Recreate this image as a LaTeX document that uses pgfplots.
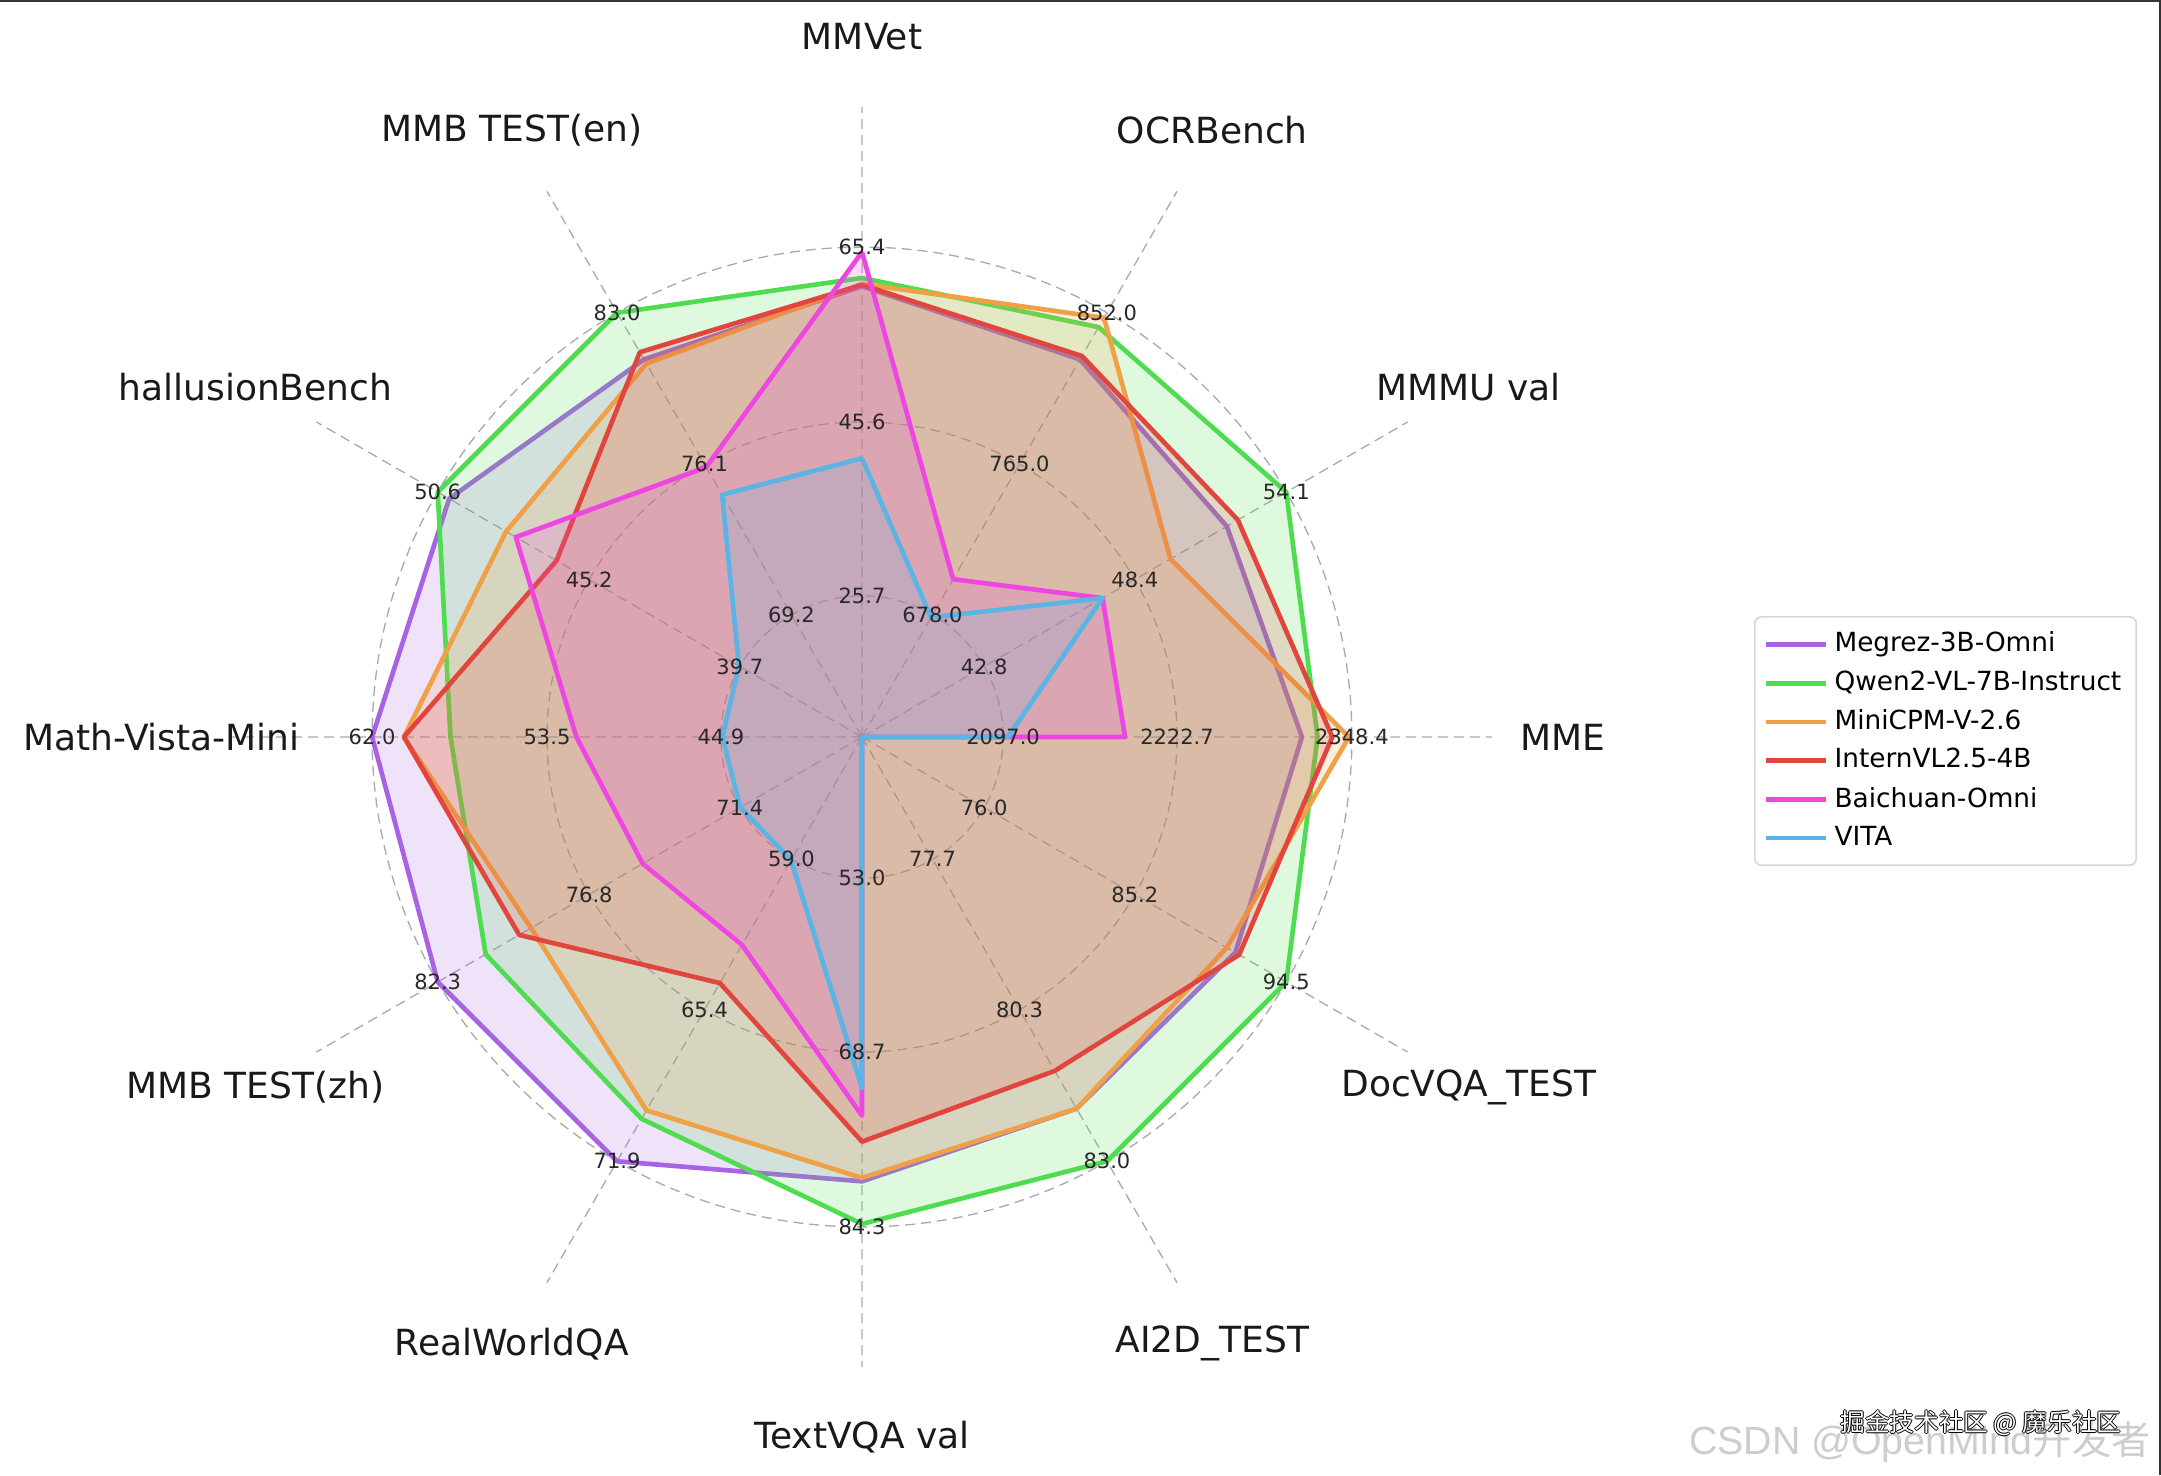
\documentclass[border=0pt]{standalone}
\usepackage{pgfplots}
\pgfplotsset{compat=1.18}
\usepgfplotslibrary{polar}
\usepackage{fontspec}
\setmainfont{DejaVu Sans}
\newfontfamily\cjk{Noto Sans CJK SC}
\newfontfamily\arialf{Liberation Sans}
\definecolor{cPurple}{RGB}{168,98,228}
\definecolor{cGreen}{RGB}{80,220,80}
\definecolor{cOrange}{RGB}{240,160,70}
\definecolor{cRed}{RGB}{225,70,62}
\definecolor{cMagenta}{RGB}{238,70,225}
\definecolor{cBlue}{RGB}{90,180,228}
\definecolor{gridgray}{RGB}{170,170,170}
\definecolor{ticktext}{RGB}{40,40,40}
\newcommand\tl{\fontsize{6.3}{7}\selectfont}
\newcommand\cl{\fontsize{10.8}{12}\selectfont}
\begin{document}
\begin{tikzpicture}
\path[use as bounding box] (0,0) rectangle (648.3pt,442.5pt);
\begin{polaraxis}[
  scale only axis, width=378pt, height=378pt,
  at={(258.6pt,221.4pt)}, anchor=center,
  ymin=0, ymax=1.286,
  xtick={0,30,...,330}, ytick={0.288,0.643,1},
  xticklabels={}, yticklabels={},
  major tick length=0pt,
  grid=major,
  major grid style={draw=gridgray, dash pattern=on 3pt off 1.8pt, line width=0.4pt},
  axis line style={draw=none},
  clip=false,
  legend cell align=left,
  legend style={at={(1.208,0.596)}, anchor=north west, draw={rgb,255:red,215;green,215;blue,215}, line width=0.5pt, fill=white, rounded corners=2pt, font=\fontsize{7.9}{9.5}\selectfont, row sep=0.2pt, inner sep=2.5pt},
  legend image code/.code={\draw[#1,fill=none,line width=1.4pt] (0pt,0pt) -- (18pt,0pt);},
]
\addplot[draw=cPurple, line width=1.4pt, fill=cPurple, fill opacity=0.18, line join=round] coordinates {
(90,0.92) (60,0.89) (30,0.86) (0,0.898) (-30,0.88) (-60,0.876) (-90,0.907) (-120,1.0) (-150,1.0) (180,1.0) (150,0.973) (120,0.89) (90,0.92)};
\addlegendentry{Megrez-3B-Omni}
\addplot[draw=cGreen, line width=1.4pt, fill=cGreen, fill opacity=0.18, line join=round] coordinates {
(90,0.937) (60,0.966) (30,1.0) (0,0.93) (-30,1.0) (-60,1.0) (-90,0.994) (-120,0.90) (-150,0.887) (180,0.84) (150,1.0) (120,1.0) (90,0.937)};
\addlegendentry{Qwen2-VL-7B-Instruct}
\addplot[draw=cOrange, line width=1.4pt, fill=cOrange, fill opacity=0.18, line join=round] coordinates {
(90,0.925) (60,0.988) (30,0.727) (0,0.994) (-30,0.86) (-60,0.876) (-90,0.90) (-120,0.88) (-150,0.78) (180,0.935) (150,0.839) (120,0.88) (90,0.925)};
\addlegendentry{MiniCPM-V-2.6}
\addplot[draw=cRed, line width=1.4pt, fill=cRed, fill opacity=0.18, line join=round] coordinates {
(90,0.923) (60,0.898) (30,0.886) (0,0.96) (-30,0.889) (-60,0.787) (-90,0.826) (-120,0.58) (-150,0.808) (180,0.935) (150,0.72) (120,0.907) (90,0.923)};
\addlegendentry{InternVL2.5-4B}
\addplot[draw=cMagenta, line width=1.4pt, fill=cMagenta, fill opacity=0.18, line join=round] coordinates {
(90,0.99) (60,0.372) (30,0.567) (0,0.537) (-30,0) (-60,0) (-90,0.773) (-120,0.49) (-150,0.517) (180,0.583) (150,0.816) (120,0.636) (90,0.99)};
\addlegendentry{Baichuan-Omni}
\addplot[draw=cBlue, line width=1.4pt, fill=cBlue, fill opacity=0.18, line join=round] coordinates {
(90,0.569) (60,0.282) (30,0.567) (0,0.298) (-30,0) (-60,0) (-90,0.717) (-120,0.29) (-150,0.287) (180,0.285) (150,0.29) (120,0.571) (90,0.569)};
\addlegendentry{VITA}
% value labels on each spoke
\tikzset{vl/.style={font=\tl, text=ticktext, inner sep=0pt}}
\node[vl] at (axis cs:90,0.288) {25.7};
\node[vl] at (axis cs:90,0.643) {45.6};
\node[vl] at (axis cs:90,1) {65.4};
\node[vl] at (axis cs:60,0.288) {678.0};
\node[vl] at (axis cs:60,0.643) {765.0};
\node[vl] at (axis cs:60,1) {852.0};
\node[vl] at (axis cs:30,0.288) {42.8};
\node[vl] at (axis cs:30,0.643) {48.4};
\node[vl] at (axis cs:30,1) {54.1};
\node[vl] at (axis cs:0,0.288) {2097.0};
\node[vl] at (axis cs:0,0.643) {2222.7};
\node[vl] at (axis cs:0,1) {2348.4};
\node[vl] at (axis cs:-30,0.288) {76.0};
\node[vl] at (axis cs:-30,0.643) {85.2};
\node[vl] at (axis cs:-30,1) {94.5};
\node[vl] at (axis cs:-60,0.288) {77.7};
\node[vl] at (axis cs:-60,0.643) {80.3};
\node[vl] at (axis cs:-60,1) {83.0};
\node[vl] at (axis cs:-90,0.288) {53.0};
\node[vl] at (axis cs:-90,0.643) {68.7};
\node[vl] at (axis cs:-90,1) {84.3};
\node[vl] at (axis cs:-120,0.288) {59.0};
\node[vl] at (axis cs:-120,0.643) {65.4};
\node[vl] at (axis cs:-120,1) {71.9};
\node[vl] at (axis cs:-150,0.288) {71.4};
\node[vl] at (axis cs:-150,0.643) {76.8};
\node[vl] at (axis cs:-150,1) {82.3};
\node[vl] at (axis cs:180,0.288) {44.9};
\node[vl] at (axis cs:180,0.643) {53.5};
\node[vl] at (axis cs:180,1) {62.0};
\node[vl] at (axis cs:150,0.288) {39.7};
\node[vl] at (axis cs:150,0.643) {45.2};
\node[vl] at (axis cs:150,1) {50.6};
\node[vl] at (axis cs:120,0.288) {69.2};
\node[vl] at (axis cs:120,0.643) {76.1};
\node[vl] at (axis cs:120,1) {83.0};
% category labels
\tikzset{cat/.style={font=\cl, text=black!90, inner sep=0pt}}
\node[cat] at (axis cs:90,1.43) {MMVet};
\node[cat] at (axis cs:60,1.43) {OCRBench};
\node[cat] at (axis cs:30,1.43) {MMMU val};
\node[cat] at (axis cs:0,1.43) {MME};
\node[cat] at (axis cs:-30,1.43) {DocVQA\_TEST};
\node[cat] at (axis cs:-60,1.43) {AI2D\_TEST};
\node[cat] at (axis cs:-90,1.43) {TextVQA val};
\node[cat] at (axis cs:-120,1.43) {RealWorldQA};
\node[cat] at (axis cs:-150,1.43) {MMB TEST(zh)};
\node[cat] at (axis cs:180,1.43) {Math-Vista-Mini};
\node[cat] at (axis cs:150,1.43) {hallusionBench};
\node[cat] at (axis cs:120,1.43) {MMB TEST(en)};
\end{polaraxis}
% watermark
\node[inner sep=0pt, text={rgb,255:red,205;green,205;blue,205}, font=\fontsize{11.8}{13}\selectfont] at (576pt,10pt) {\arialf CSDN @OpenMind\cjk 开发者};
\foreach \dx/\dy in {-0.3/0,0.3/0,0/-0.3,0/0.3}{
  \node[inner sep=0pt, text=black, font=\fontsize{7.4}{8}\selectfont] at (594.3pt+\dx pt,15.6pt+\dy pt) {\cjk 掘金技术社区 @ 魔乐社区};
}
\node[inner sep=0pt, text=white, font=\fontsize{7.4}{8}\selectfont] at (594.3pt,15.6pt) {\cjk 掘金技术社区 @ 魔乐社区};
% screenshot border
\draw[line width=0.6pt, black!80] (0,442.2pt) -- (648.3pt,442.2pt);
\draw[line width=0.6pt, black!80] (647.9pt,0) -- (647.9pt,442.5pt);
\end{tikzpicture}
\end{document}
